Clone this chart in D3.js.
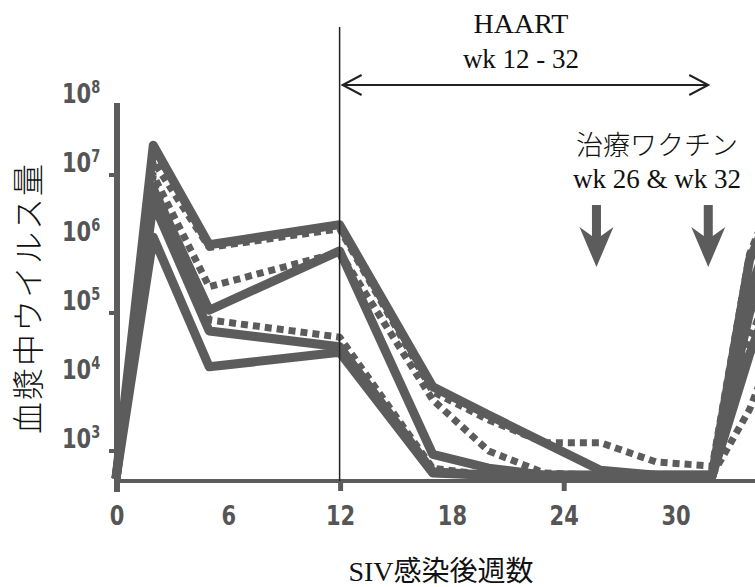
<!DOCTYPE html>
<html>
<head>
<meta charset="utf-8">
<script src="https://cdn.jsdelivr.net/npm/d3@7"></script>
<style>
  body { margin: 0; background: #fff; }
  svg { display: block; }
</style>
</head>
<body>
<div id="chart"></div>
<script>
// sampling weeks after SIV infection
var weeks = [0, 2, 5, 12, 17, 20, 23, 26, 29, 32, 34, 36];

// log10 plasma viral load per animal
var animal1 = [2.6, 7.43, 5.99, 6.28, 3.93, 3.52, 3.12, 2.72, 2.65, 2.65, 5.3, 6.8];
var animal2 = [2.6, 7.2, 5.95, 6.22, 3.86, 3.45, 3.12, 3.12, 2.84, 2.78, 5.85, 7.2];
var animal3 = [2.6, 6.9, 4.9, 4.65, 2.75, 2.65, 2.65, 2.65, 2.65, 2.65, 4.6, 6.0];
var animal4 = [2.6, 7.0, 5.38, 5.88, 3.74, 3.0, 2.68, 2.65, 2.65, 2.65, 3.6, 5.0];
var animal5 = [2.6, 6.8, 5.04, 5.9, 2.95, 2.75, 2.65, 2.65, 2.65, 2.65, 5.77, 7.0];
var animal6 = [2.6, 6.1, 4.22, 4.43, 2.68, 2.65, 2.65, 2.65, 2.65, 2.65, 4.4, 5.8];
var animal7 = [2.6, 6.6, 4.74, 4.51, 2.7, 2.65, 2.65, 2.65, 2.65, 2.65, 5.0, 6.5];

var seriesValues = [animal1, animal2, animal3, animal4, animal5, animal6, animal7];
var seriesDashed = [false, true, true, true, false, false, false];

var xTickLabels = [0, 6, 12, 18, 24, 30];
var xTickMarks = [0, 12, 24];
var yTickLabels = [3, 4, 5, 6, 7, 8];
var yTickMarks = [3, 5, 7];

var haartWeeks = [12, 32];
var vaccineWeeks = [26, 32];

var width = 755, height = 587;
var ink = "#5c5c5c";

var svg = d3.select("#chart").append("svg")
  .attr("width", width)
  .attr("height", height);

var x = d3.scaleLinear().domain([0, 30]).range([116, 675]);
var y = d3.scaleLog().domain([Math.pow(10, 2.565), 1e8]).range([481, 106]);

// lines
var line = d3.line()
  .x(function(d) { return x(d[0]); })
  .y(function(d) { return y(Math.pow(10, d[1])); });

seriesValues.forEach(function(vals, i) {
  var pts = weeks.map(function(w, j) { return [w, vals[j]]; });
  svg.append("path")
    .attr("d", line(pts))
    .attr("fill", "none")
    .attr("stroke", ink)
    .attr("stroke-width", seriesDashed[i] ? 7 : 9)
    .attr("stroke-dasharray", seriesDashed[i] ? "7,5" : null)
    .attr("stroke-linejoin", "round");
});

// axes
svg.append("line")
  .attr("x1", x(0) + 1).attr("x2", x(0) + 1)
  .attr("y1", 103).attr("y2", 492)
  .attr("stroke", ink).attr("stroke-width", 6);

svg.append("line")
  .attr("x1", x(0)).attr("x2", width)
  .attr("y1", y.range()[0]).attr("y2", y.range()[0])
  .attr("stroke", ink).attr("stroke-width", 4);

svg.selectAll(".xtick")
  .data(xTickMarks)
  .enter().append("line")
  .attr("x1", function(d) { return x(d) + 1; })
  .attr("x2", function(d) { return x(d) + 1; })
  .attr("y1", 481).attr("y2", 491)
  .attr("stroke", ink).attr("stroke-width", 5);

svg.selectAll(".ytick")
  .data(yTickMarks)
  .enter().append("line")
  .attr("x1", 109).attr("x2", 118)
  .attr("y1", function(d) { return y(Math.pow(10, d)); })
  .attr("y2", function(d) { return y(Math.pow(10, d)); })
  .attr("stroke", ink).attr("stroke-width", 4);

// tick labels, stretched a little taller like the scanned bitmap font
svg.selectAll(".xlab")
  .data(xTickLabels)
  .enter().append("text")
  .attr("transform", function(d) { return "translate(" + (x(d) + 1) + ",525) scale(1,1.3)"; })
  .attr("text-anchor", "middle")
  .style("font-family", "DejaVu Sans, sans-serif")
  .style("font-weight", "bold")
  .style("font-size", "21px")
  .style("fill", "#555")
  .text(function(d) { return d; });

var ylab = svg.selectAll(".ylab")
  .data(yTickLabels)
  .enter().append("text")
  .attr("transform", function(d) { return "translate(62," + (y(Math.pow(10, d)) - 3) + ") scale(1,1.3)"; })
  .style("font-family", "DejaVu Sans, sans-serif")
  .style("font-weight", "bold")
  .style("font-size", "21px")
  .style("fill", "#555");
ylab.append("tspan").text("10");
ylab.append("tspan")
  .attr("dy", -8)
  .style("font-size", "13px")
  .text(function(d) { return d; });

// HAART start line
svg.append("line")
  .attr("x1", x(haartWeeks[0])).attr("x2", x(haartWeeks[0]))
  .attr("y1", 27).attr("y2", 481)
  .attr("stroke", "#222").attr("stroke-width", 1.5);

// HAART double arrow
var ay = 85, x0 = x(haartWeeks[0]) + 3, x1 = x(haartWeeks[1]) - 4;
svg.append("path")
  .attr("d", "M" + x0 + "," + ay + "H" + x1 +
    "M" + (x0 + 19) + "," + (ay - 10) + "L" + x0 + "," + ay + "L" + (x0 + 19) + "," + (ay + 10) +
    "M" + (x1 - 19) + "," + (ay - 10) + "L" + x1 + "," + ay + "L" + (x1 - 19) + "," + (ay + 10))
  .attr("fill", "none")
  .attr("stroke", "#222")
  .attr("stroke-width", 2);

var serif = "Liberation Serif, 'Times New Roman', 'Noto Sans CJK JP', serif";

svg.append("text")
  .attr("x", 521).attr("y", 33)
  .attr("text-anchor", "middle")
  .style("font-family", serif).style("font-size", "28px").style("fill", "#111")
  .text("HAART");
svg.append("text")
  .attr("x", 521).attr("y", 68)
  .attr("text-anchor", "middle")
  .style("font-family", serif).style("font-size", "27px").style("fill", "#111")
  .text("wk 12 - 32");

svg.append("text")
  .attr("x", 657).attr("y", 155)
  .attr("text-anchor", "middle")
  .style("font-family", "'Noto Sans CJK JP', sans-serif").style("font-size", "27px")
  .style("font-weight", 300).style("fill", "#111")
  .text("治療ワクチン");
svg.append("text")
  .attr("x", 657).attr("y", 188)
  .attr("text-anchor", "middle")
  .style("font-family", serif).style("font-size", "27px").style("fill", "#111")
  .text("wk 26 & wk 32");

// vaccination arrows
vaccineWeeks.forEach(function(w) {
  var cx = x(w) - 4;
  svg.append("path")
    .attr("d", "M" + (cx - 4.5) + ",205H" + (cx + 4.5) + "V236L" + (cx + 17) + ",227L" + cx +
      ",267L" + (cx - 17) + ",227L" + (cx - 4.5) + ",236Z")
    .attr("fill", ink);
});

// axis titles
svg.append("text")
  .attr("x", 441).attr("y", 581)
  .attr("text-anchor", "middle")
  .style("font-family", serif).style("font-size", "28px").style("fill", "#111")
  .text("SIV感染後週数");

svg.append("text")
  .attr("transform", "translate(40,298) rotate(-90)")
  .attr("text-anchor", "middle")
  .style("font-family", "'Noto Sans CJK JP', sans-serif").style("font-size", "32px")
  .style("font-weight", 300).style("letter-spacing", "2px").style("fill", "#111")
  .text("血漿中ウイルス量");
</script>
</body>
</html>
